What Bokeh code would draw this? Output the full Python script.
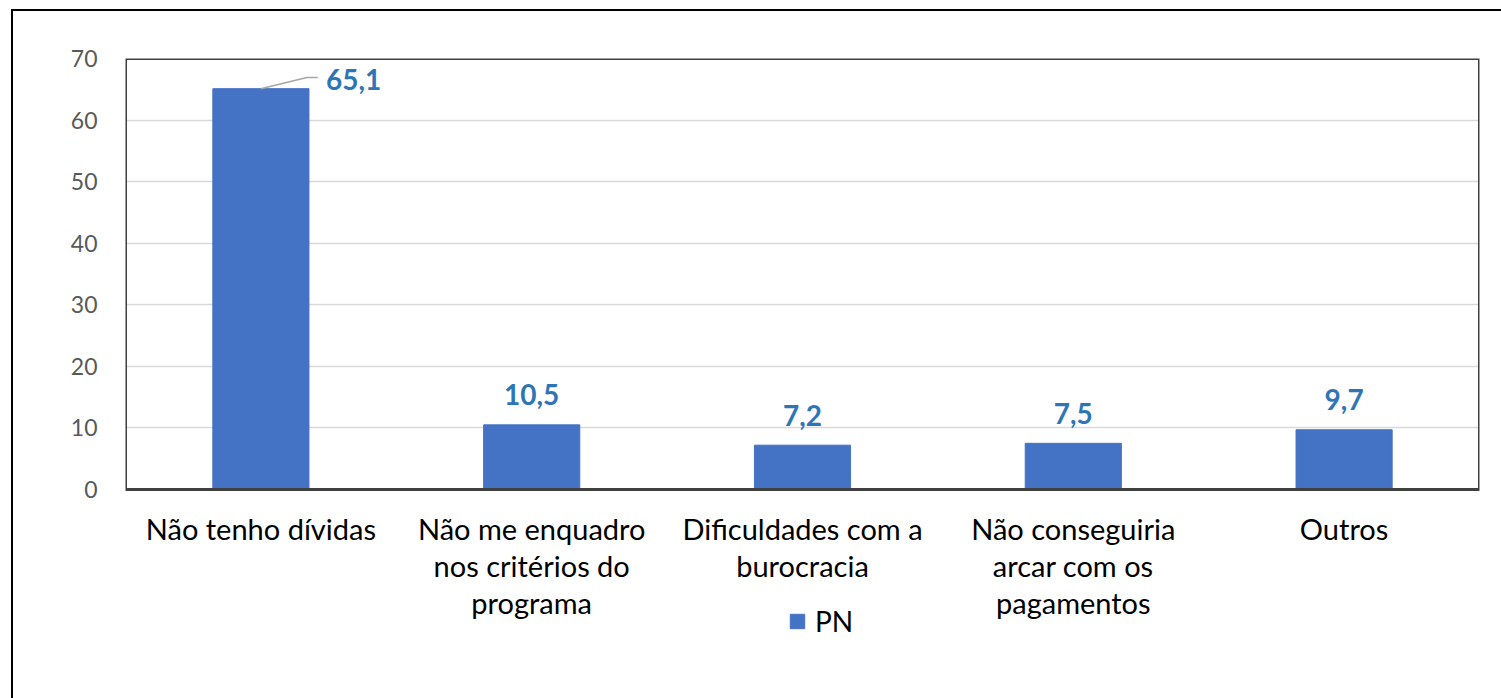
from bokeh.plotting import figure
from bokeh.models import (ColumnDataSource, FactorRange, Range1d, Legend, LegendItem,
                          FixedTicker, BoxAnnotation)
from bokeh.core.properties import value
from bokeh.embed import file_html
from bokeh.resources import INLINE

categories = ["Não tenho dívidas",
              "Não me enquadro\nnos critérios do\nprograma",
              "Dificuldades com a\nburocracia",
              "Não conseguiria\narcar com os\npagamentos",
              "Outros"]
values = [65.1, 10.5, 7.2, 7.5, 9.7]
labels = ["65,1", "10,5", "7,2", "7,5", "9,7"]
series_name = "PN"
y_ticks = [0, 10, 20, 30, 40, 50, 60, 70]

FONT = "Lato"
BAR = "#4472C4"
LABEL = "#2E75B6"

src = ColumnDataSource(dict(cat=categories, val=values, lab=labels))

CX, CY = 13, 11          # canvas offset on the page (outer border)
PLOT_TOP, PLOT_BOTTOM = 58, 489   # pixel rows of value 70 and 0
FRAME_BOTTOM = 698               # frame extended down so the legend can sit below the axis
Y_MAX = 70
frame_h = FRAME_BOTTOM - PLOT_TOP
y_min = Y_MAX - frame_h * Y_MAX / (PLOT_BOTTOM - PLOT_TOP)

p = figure(x_range=FactorRange(factors=categories, range_padding=0),
           y_range=Range1d(y_min, Y_MAX),
           frame_width=1354, frame_height=frame_h,
           min_border_left=125 - CX, min_border_top=PLOT_TOP - CY,
           min_border_right=1520 - 125 - 1354,
           min_border_bottom=0,
           output_backend="svg", toolbar_location=None)

p.styles = {"border-left": "2px solid black", "border-top": "2px solid black",
            "margin-left": f"{CX - 2}px", "margin-top": f"{CY - 2}px"}

p.outline_line_color = None
p.background_fill_color = "white"
p.border_fill_color = "white"

p.xgrid.grid_line_color = None
p.ygrid.grid_line_color = "#D9D9D9"
p.ygrid.grid_line_width = 1.5

bars = p.vbar(x="cat", top="val", width=0.355, source=src,
              fill_color=BAR, line_color=BAR)

# plot-area box (0..70)
p.add_layout(BoxAnnotation(bottom=0, top=Y_MAX, fill_alpha=0,
                           line_color="#404040", line_alpha=1.0,
                           line_width=3, level="overlay"))

sub = ColumnDataSource(dict(cat=categories[1:], val=values[1:], lab=labels[1:]))
p.text(x="cat", y="val", text="lab", source=sub, text_align="center",
       text_baseline="middle", y_offset=-30, text_font=value(FONT),
       text_font_style="bold", text_font_size="28px", text_color=LABEL)

first = ColumnDataSource(dict(cat=categories[:1], val=values[:1], lab=labels[:1]))
p.text(x="cat", y="val", text="lab", source=first, text_align="left",
       text_baseline="middle", x_offset=65, y_offset=-9, text_font=value(FONT),
       text_font_style="bold", text_font_size="28px", text_color=LABEL)

c0 = categories[0]
v0 = values[0]
p.line(x=[(c0, 0.0), (c0, 0.17), (c0, 0.21)], y=[v0, v0 + 1.8, v0 + 1.8],
       line_color="#A6A6A6", line_width=1.5)

p.xaxis.fixed_location = 0
p.xaxis.axis_line_color = None
p.xaxis.major_tick_line_color = None
p.xaxis.minor_tick_line_color = None
p.xaxis.major_label_text_font = FONT
p.xaxis.major_label_text_font_size = "29px"
p.xaxis.major_label_text_color = "black"
p.xaxis.major_label_standoff = 15
p.xaxis.major_label_text_line_height = 1.06

p.yaxis.ticker = FixedTicker(ticks=y_ticks)
p.yaxis.axis_line_color = None
p.yaxis.major_tick_line_color = None
p.yaxis.minor_tick_line_color = None
p.yaxis.major_label_text_font = FONT
p.yaxis.major_label_text_font_size = "23px"
p.yaxis.major_label_text_color = "#595959"
p.yaxis.major_label_standoff = 22

legend = Legend(items=[LegendItem(label=series_name, renderers=[bars])],
                location=(663, 60), orientation="horizontal",
                glyph_width=18, glyph_height=18, label_standoff=9,
                padding=0, margin=0, border_line_color=None,
                background_fill_alpha=0,
                label_text_font=FONT, label_text_font_size="28px",
                label_text_color="black")
p.add_layout(legend, "center")

open("out.html", "w").write(file_html(p, INLINE))
